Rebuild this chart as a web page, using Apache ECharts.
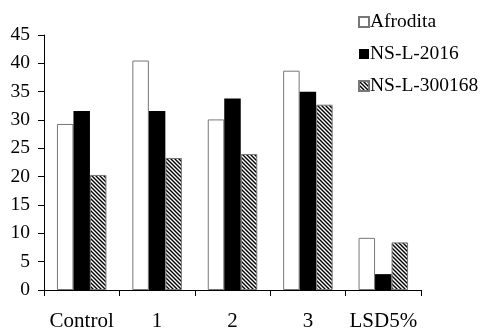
<!DOCTYPE html>
<html>
<head>
<meta charset="utf-8">
<script src="https://cdn.jsdelivr.net/npm/echarts@6/dist/echarts.min.js"></script>
<style>
    html, body { margin: 0; padding: 0; background: #fff; }
    #chart { width: 481px; height: 334px; }
</style>
</head>
<body>
<div id="chart"></div>
<script>
const categories = ["Control", "1", "2", "3", "LSD5%"];
const afrodita = [29.3, 40.5, 30.1, 38.7, 9.2];
const nsl2016 = [31.6, 31.6, 33.8, 35.0, 2.8];
const nsl300168 = [20.3, 23.3, 24.0, 32.7, 8.4];

// diagonal hatch like the original "\\\\" fill
function makeHatch() {
    const size = 4;
    const c = document.createElement("canvas");
    c.width = size;
    c.height = size;
    const ctx = c.getContext("2d");
    ctx.fillStyle = "#fff";
    ctx.fillRect(0, 0, size, size);
    ctx.strokeStyle = "#000";
    ctx.lineWidth = 1.4;
    ctx.beginPath();
    ctx.moveTo(-1, -1);
    ctx.lineTo(size + 1, size + 1);
    ctx.moveTo(-1, size - 1);
    ctx.lineTo(1, size + 1);
    ctx.moveTo(size - 1, -1);
    ctx.lineTo(size + 1, 1);
    ctx.stroke();
    return c;
}

const font = "Liberation Serif";
const chart = echarts.init(document.getElementById("chart"));

chart.setOption({
    animation: false,
    textStyle: { fontFamily: font, color: "#000" },
    legend: {
        orient: "vertical",
        left: 353,
        top: 7,
        itemWidth: 10,
        itemHeight: 10,
        itemGap: 12,
        icon: "rect",
        textStyle: { fontFamily: font, fontSize: 19.5, color: "#000", padding: [0, 0, 0, -4] },
        data: ["Afrodita", "NS-L-2016", "NS-L-300168"],
    },
    grid: {
        left: 44,
        right: 60,
        top: 35,
        bottom: 44,
    },
    xAxis: {
        type: "category",
        data: categories,
        axisLine: { lineStyle: { color: "#000", width: 1 } },
        axisTick: { show: true, length: 6, lineStyle: { color: "#000" } },
        axisLabel: { interval: 0, fontFamily: font, fontSize: 21, color: "#000", margin: 21 },
    },
    yAxis: {
        type: "value",
        min: 0,
        max: 45,
        interval: 5,
        axisLine: { show: true, lineStyle: { color: "#000", width: 1 } },
        axisTick: { show: true, length: 6, lineStyle: { color: "#000" } },
        axisLabel: { fontFamily: font, fontSize: 19.5, color: "#000", margin: 14 },
        splitLine: { show: false },
    },
    series: [
        {
            name: "Afrodita",
            type: "bar",
            barWidth: 16.5,
            barGap: "0%",
            itemStyle: { color: "#fff", borderColor: "#777", borderWidth: 1 },
            data: afrodita,
        },
        {
            name: "NS-L-2016",
            type: "bar",
            barWidth: 16.5,
            barGap: "0%",
            itemStyle: { color: "#000", borderColor: "#000", borderWidth: 0 },
            data: nsl2016,
        },
        {
            name: "NS-L-300168",
            type: "bar",
            barWidth: 16.5,
            barGap: "0%",
            itemStyle: {
                color: { image: makeHatch(), repeat: "repeat" },
                borderColor: "#777",
                borderWidth: 1,
            },
            data: nsl300168,
        },
    ],
});
</script>
</body>
</html>
